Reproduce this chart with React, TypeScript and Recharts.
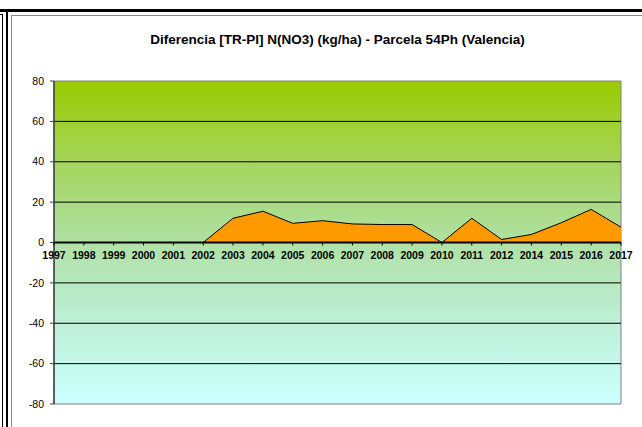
import React from 'react';
import { ComposedChart, Area, XAxis, YAxis, ReferenceLine, ReferenceArea } from 'recharts';

const years = ['1997','1998','1999','2000','2001','2002','2003','2004','2005','2006','2007','2008','2009','2010','2011','2012','2014','2015','2016','2017'];
const diff = [0,0,0,0,0,0,12,15.5,9.5,10.8,9.2,8.9,8.9,0,12,1.5,4,9.8,16.4,7.6];
const yTicks = [-80,-60,-40,-20,0,20,40,60,80];
const gridValues = [-60,-40,-20,20,40,60];
const Y_MIN = -80;
const Y_MAX = 80;

const W = 642;
const H = 427;
const X_AXIS_H = 23;
const M = { top: 81, right: 21, bottom: 0, left: 0 };
const PLOT_H = H - M.top - M.bottom - X_AXIS_H;

const data = years.map((y, i) => ({ year: y, value: diff[i] }));

const XTick = (props: any) => {
  const { x, y, payload } = props;
  const zeroY = y - (PLOT_H * (0 - Y_MIN)) / (Y_MAX - Y_MIN);
  return (
    <g>
      <line x1={x} x2={x} y1={zeroY} y2={zeroY + 3} stroke="#000" strokeWidth={1} />
      <text x={x} y={zeroY + 16} textAnchor="middle" fontFamily="'Liberation Sans', Arial, sans-serif" fontWeight="bold" fontSize={10.5} fill="#000">
        {payload.value}
      </text>
    </g>
  );
};

export default function App() {
  return (
    <div style={{ position: 'absolute', left: 0, top: 0, width: W, height: H, background: '#fff' }}>
      <div style={{ position: 'absolute', left: 0, top: 9, width: W, height: 3, background: '#000' }} />
      <div style={{ position: 'absolute', left: 6, top: 9, width: 2, height: H - 9, background: '#000' }} />
      <div style={{ position: 'absolute', left: 0, top: 14, width: 3, height: 1, background: '#000' }} />
      <div style={{ position: 'absolute', left: 2, top: 14, width: 1, height: H - 14, background: '#000' }} />
      <div style={{ position: 'absolute', left: 11, top: 15, width: W - 11, height: 1, background: '#888' }} />
      <div style={{ position: 'absolute', left: 11, top: 15, width: 1, height: H - 15, background: '#888' }} />
      <div style={{ position: 'absolute', left: 50, top: 32, width: 575, textAlign: 'center', fontFamily: "'Liberation Sans', Arial, sans-serif", fontWeight: 'bold', fontSize: 13.5, color: '#000', whiteSpace: 'nowrap' }}>
        Diferencia [TR-PI] N(NO3) (kg/ha) - Parcela 54Ph (Valencia)
      </div>
      <div style={{ position: 'absolute', left: 0, top: 0 }}>
        <ComposedChart width={W} height={H} data={data} margin={M}>
          <defs>
            <linearGradient id="bg" x1="0" y1="0" x2="0" y2="1">
              <stop offset="0%" stopColor="#99CC00" />
              <stop offset="25%" stopColor="#A4D55A" />
              <stop offset="50%" stopColor="#B0E1A6" />
              <stop offset="75%" stopColor="#BEF0D8" />
              <stop offset="100%" stopColor="#CCFFFF" />
            </linearGradient>
          </defs>
          <XAxis dataKey="year" height={X_AXIS_H} axisLine={false} tickLine={false} tickSize={0} tickMargin={0} interval={0} tick={<XTick />} />
          <YAxis
            domain={[Y_MIN, Y_MAX]}
            ticks={yTicks}
            width={54}
            interval={0}
            axisLine={{ stroke: '#404040', strokeWidth: 1.5 }}
            tickLine={{ stroke: '#404040' }}
            tickSize={4}
            tickMargin={6}
            tick={{ fontFamily: "'Liberation Sans', Arial, sans-serif", fontSize: 10.5, fill: '#000' }}
          />
          <ReferenceArea y1={Y_MIN} y2={Y_MAX} fill="url(#bg)" fillOpacity={1} stroke="#808080" strokeWidth={1} ifOverflow="visible" />
          {gridValues.map((v) => (
            <ReferenceLine key={v} y={v} stroke="#000" strokeWidth={1} />
          ))}
          <Area type="linear" dataKey="value" baseValue={0} fill="#FF9900" fillOpacity={1} stroke="#000" strokeWidth={1} isAnimationActive={false} dot={false} activeDot={false} />
          <ReferenceLine y={0} stroke="#000" strokeWidth={2} />
        </ComposedChart>
      </div>
    </div>
  );
}
